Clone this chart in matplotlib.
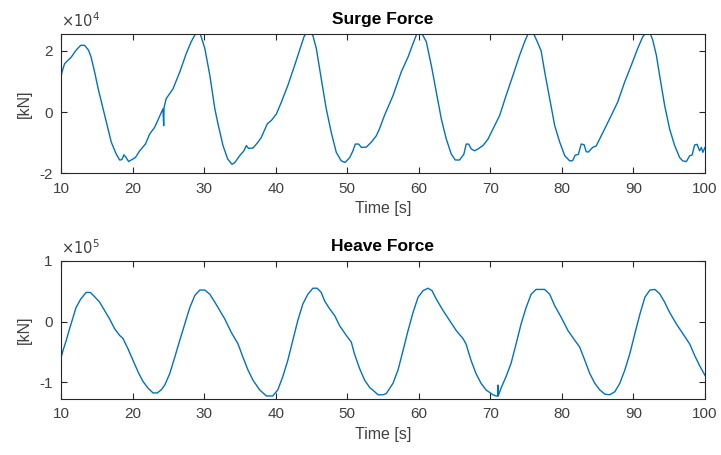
import matplotlib
matplotlib.use("Agg")
import matplotlib.pyplot as plt
import numpy as np

plt.rcParams['font.family'] = ['Liberation Sans', 'DejaVu Sans']

# Surge force (values in units of 1e4 kN)
surge_t = [10.0, 10.14, 10.5, 11.45, 12.1, 12.75, 13.3, 13.85, 14.2, 14.7, 15.2, 15.6, 16.1, 16.57,
           17.03, 17.73, 18.2, 18.5, 18.8, 19.1, 19.45, 19.9, 20.4, 21.0, 21.8, 22.4, 23.1, 23.8,
           24.25, 24.35, 24.4, 24.7, 25.65, 26.6, 27.5, 28.2, 28.9, 29.4, 30.1, 30.8, 31.5, 31.94,
           32.64, 33.3, 33.9, 34.27, 34.97, 35.57, 35.9, 36.2, 36.83, 37.53, 38.0, 38.83, 39.4,
           40.1, 40.8, 41.7, 42.66, 43.35, 43.96, 44.3, 44.9, 45.2, 45.68, 46.37, 47.07, 47.77,
           48.47, 49.17, 49.7, 50.35, 50.8, 51.13, 51.6, 51.97, 52.67, 53.36, 54.06, 54.5, 55.2,
           56.4, 57.55, 58.5, 59.2, 59.8, 60.35, 61.05, 61.75, 62.45, 63.15, 63.85, 64.55, 65.1,
           65.7, 66.3, 66.63, 66.97, 67.34, 67.8, 68.27, 68.97, 69.67, 70.37, 71.3, 72.2, 73.16,
           74.1, 74.8, 75.36, 75.96, 76.56, 77.1, 77.6, 78.3, 79.0, 79.7, 80.4, 81.1, 81.5, 81.87,
           82.3, 82.7, 83.1, 83.4, 83.7, 84.3, 84.8, 85.5, 86.2, 86.9, 87.8, 88.77, 89.7, 90.6,
           91.3, 91.8, 92.3, 92.7, 93.2, 93.66, 94.36, 95.06, 95.76, 96.46, 96.9, 97.4, 97.86,
           98.2, 98.55, 98.9, 99.25, 99.5, 99.7, 100.0]
surge_v = [1.15, 1.31, 1.58, 1.80, 2.02, 2.18, 2.18, 2.02, 1.80, 1.31, 0.76, 0.38, -0.11, -0.55,
           -0.98, -1.37, -1.56, -1.55, -1.39, -1.48, -1.61, -1.55, -1.48, -1.26, -1.04, -0.71, -0.49, -0.13,
           0.11, -0.44, 0.15, 0.44, 0.76, 1.31, 1.91, 2.30, 2.60, 2.60, 2.08, 1.20, 0.11, -0.38,
           -1.09, -1.53, -1.70, -1.65, -1.42, -1.26, -1.09, -1.18, -1.17, -0.98, -0.82, -0.38, -0.27,
           -0.06, 0.33, 0.87, 1.53, 2.02, 2.46, 2.60, 2.60, 2.50, 2.08, 1.09, 0.11, -0.66,
           -1.31, -1.59, -1.64, -1.48, -1.26, -1.04, -1.04, -1.15, -1.14, -0.98, -0.77, -0.55, -0.11,
           0.54, 1.31, 1.80, 2.24, 2.60, 2.60, 2.30, 1.53, 0.66, -0.22, -0.88, -1.37, -1.56,
           -1.56, -1.37, -1.04, -1.04, -1.20, -1.26, -1.20, -1.09, -0.88, -0.55, -0.11, 0.54, 1.20,
           1.86, 2.30, 2.60, 2.60, 2.30, 2.00, 1.31, 0.44, -0.44, -0.98, -1.42, -1.59, -1.58, -1.40,
           -1.38, -1.04, -1.06, -1.29, -1.30, -1.15, -1.10, -0.77, -0.44, -0.11, 0.33, 0.98, 1.53, 2.08,
           2.46, 2.60, 2.60, 2.35, 1.86, 1.20, 0.22, -0.55, -1.09, -1.48, -1.59, -1.61, -1.42,
           -1.40, -1.07, -1.05, -1.26, -1.15, -1.31, -1.15]

# Heave force (values in units of 1e5 kN)
heave_t = [10.0, 10.28, 10.74, 11.2, 11.68, 12.1, 12.75, 13.5, 14.1, 14.7, 15.4, 16.1, 16.8, 17.5,
           18.2, 18.66, 19.36, 20.06, 20.76, 21.46, 22.16, 22.86, 23.46, 24.0, 24.5, 25.2, 25.9,
           26.6, 27.3, 28.0, 28.7, 29.4, 30.1, 30.8, 31.5, 32.1, 32.9, 33.8, 34.74, 35.43, 36.13,
           36.83, 37.77, 38.7, 39.6, 40.3, 41.0, 41.7, 42.4, 43.1, 43.8, 44.5, 45.2, 45.8, 46.37,
           46.84, 47.54, 48.24, 48.94, 49.87, 50.57, 51.0, 51.74, 52.44, 53.14, 53.84, 54.3, 55.0,
           55.46, 56.4, 57.1, 57.8, 58.5, 59.2, 59.9, 60.6, 61.3, 61.85, 62.45, 63.4, 64.3, 65.24,
           66.17, 66.6, 67.3, 68.0, 68.7, 69.4, 70.37, 70.8, 71.05, 71.07, 71.1, 71.5, 72.2, 72.9,
           73.6, 74.3, 75.0, 75.7, 76.4, 77.6, 78.3, 79.0, 79.9, 80.85, 81.8, 82.48, 83.2, 83.9,
           84.6, 85.3, 86.0, 86.7, 87.4, 88.1, 88.8, 89.5, 90.2, 90.9, 91.6, 92.3, 93.0, 93.66,
           94.36, 95.06, 96.0, 96.9, 97.86, 98.55, 99.25, 100.0]
heave_v = [-0.60, -0.48, -0.31, -0.12, 0.07, 0.23, 0.37, 0.48, 0.48, 0.41, 0.32, 0.18, 0.04, -0.12,
           -0.23, -0.28, -0.45, -0.64, -0.83, -0.99, -1.10, -1.18, -1.18, -1.13, -1.05, -0.86, -0.59,
           -0.31, -0.04, 0.23, 0.43, 0.52, 0.52, 0.45, 0.32, 0.20, 0.04, -0.18, -0.37, -0.59, -0.80,
           -0.97, -1.13, -1.23, -1.23, -1.13, -0.91, -0.64, -0.31, 0.02, 0.29, 0.45, 0.55, 0.55, 0.48,
           0.34, 0.21, 0.10, -0.07, -0.23, -0.34, -0.53, -0.78, -0.97, -1.09, -1.16, -1.21, -1.21,
           -1.19, -1.02, -0.80, -0.48, -0.15, 0.15, 0.40, 0.51, 0.55, 0.51, 0.37, 0.18, 0.02, -0.15,
           -0.28, -0.37, -0.64, -0.86, -1.02, -1.13, -1.21, -1.23, -1.23, -1.05, -1.23, -1.10, -0.91, -0.69,
           -0.37, -0.04, 0.23, 0.45, 0.53, 0.53, 0.45, 0.26, 0.07, -0.15, -0.31, -0.42, -0.64, -0.86,
           -1.02, -1.13, -1.20, -1.21, -1.16, -1.02, -0.80, -0.53, -0.20, 0.12, 0.40, 0.52, 0.53, 0.46,
           0.32, 0.15, -0.04, -0.20, -0.37, -0.56, -0.73, -0.89]

x_ticks = [10, 20, 30, 40, 50, 60, 70, 80, 90, 100]
surge_yticks = [-2, 0, 2]
heave_yticks = [-1, 0, 1]

line_color = '#0072BD'
axis_color = '#262626'
text_color = '#404040'

fig = plt.figure(figsize=(7.21, 4.55), dpi=100)
ax1 = fig.add_axes([0.0846, 0.6187, 0.8932, 0.3066])
ax2 = fig.add_axes([0.0846, 0.1231, 0.8932, 0.3033])

def style(ax, yticks, ylim, title, exp):
    ax.set_xlim(10, 100)
    ax.set_ylim(*ylim)
    ax.set_xticks(x_ticks)
    ax.set_yticks(yticks)
    ax.set_yticklabels([str(v) for v in yticks])
    ax.tick_params(direction='in', top=True, right=True, length=4, width=0.8,
                   colors=axis_color, labelsize=11, labelcolor=text_color)
    ax.tick_params(axis='x', pad=6)
    ax.tick_params(axis='y', pad=6)
    for s in ax.spines.values():
        s.set_color(axis_color)
        s.set_linewidth(0.8)
    ax.set_title(title, fontsize=12.5, fontweight='bold', color='black', pad=7)
    ax.set_xlabel('Time [s]', fontsize=11.5, color=text_color, labelpad=4)
    ax.set_ylabel('[kN]', fontsize=11.5, color=text_color, labelpad=5)
    ax.text(0.0, 1.03, r'$\times10^{%d}$' % exp, transform=ax.transAxes,
            fontsize=10.5, color=text_color, ha='left', va='bottom')

ax1.plot(surge_t, surge_v, color=line_color, lw=1.0)
style(ax1, surge_yticks, (-2.0, 2.55), 'Surge Force', 4)

ax2.plot(heave_t, heave_v, color=line_color, lw=1.0)
style(ax2, heave_yticks, (-1.28, 1.0), 'Heave Force', 5)

fig.savefig('out.png', dpi=100)
